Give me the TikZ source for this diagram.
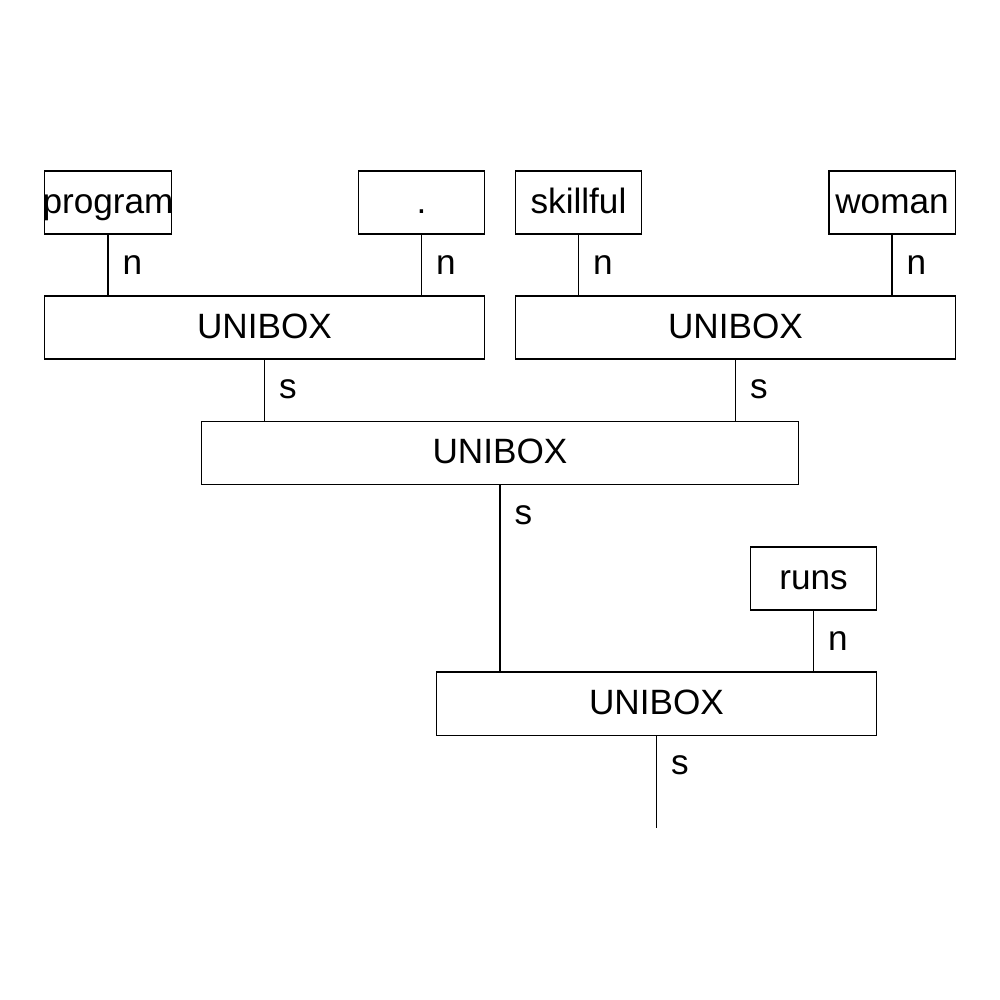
\documentclass[tikz,border=0pt]{standalone}
\usepackage{fontspec}
\setmainfont{Liberation Sans}
\usetikzlibrary{positioning}

\begin{document}
\begin{tikzpicture}[x=0.01cm,y=-0.01cm,line width=0.3pt,
    word/.style={draw,minimum width=1.26cm,minimum height=0.63cm,inner ysep=0pt,
      inner xsep=-3pt,text height=8pt,text depth=2pt},
    unibox/.style={word,minimum width=4.39cm},
    lbl/.style={anchor=west,inner sep=0pt,xshift=0.14cm,yshift=-0.3cm}]
    \useasboundingbox (0,0) rectangle (1000,1000);
    % leaves
    \node[word] (program) at (108,202.5) {program};
    \node[word] (dot) at (421.5,202.5) {.};
    \node[word] (skillful) at (578.5,202.5) {skillful};
    \node[word] (woman) at (892,202.5) {woman};
    \node[word] (runs) at (813.5,578.5) {runs};
    % unification boxes
    \node[unibox] (uniA) at (264.5,327.5) {UNIBOX};
    \node[unibox] (uniB) at (735.5,327.5) {UNIBOX};
    \node[unibox,minimum width=5.96cm] (uniC) at (500,453) {UNIBOX};
    \node[unibox] (uniD) at (656.5,703.5) {UNIBOX};
    \coordinate (root) at (656.5,828);
    % connectors
    \draw (program.south) -- (program.south |- uniA.north);
    \draw (dot.south) -- (dot.south |- uniA.north);
    \draw (skillful.south) -- (skillful.south |- uniB.north);
    \draw (woman.south) -- (woman.south |- uniB.north);
    \draw (uniA.south) -- (uniA.south |- uniC.north);
    \draw (uniB.south) -- (uniB.south |- uniC.north);
    \draw (uniC.south) -- (uniC.south |- uniD.north);
    \draw (runs.south) -- (runs.south |- uniD.north);
    \draw (uniD.south) -- (root);
    % labels
    \node[lbl] (lprogram) at (program.south) {n};
    \node[lbl] (ldot) at (dot.south) {n};
    \node[lbl] (lskillful) at (skillful.south) {n};
    \node[lbl] (lwoman) at (woman.south) {n};
    \node[lbl] (luniA) at (uniA.south) {s};
    \node[lbl] (luniB) at (uniB.south) {s};
    \node[lbl] (luniC) at (uniC.south) {s};
    \node[lbl] (lruns) at (runs.south) {n};
    \node[lbl] (luniD) at (uniD.south) {s};
\end{tikzpicture}
\end{document}
